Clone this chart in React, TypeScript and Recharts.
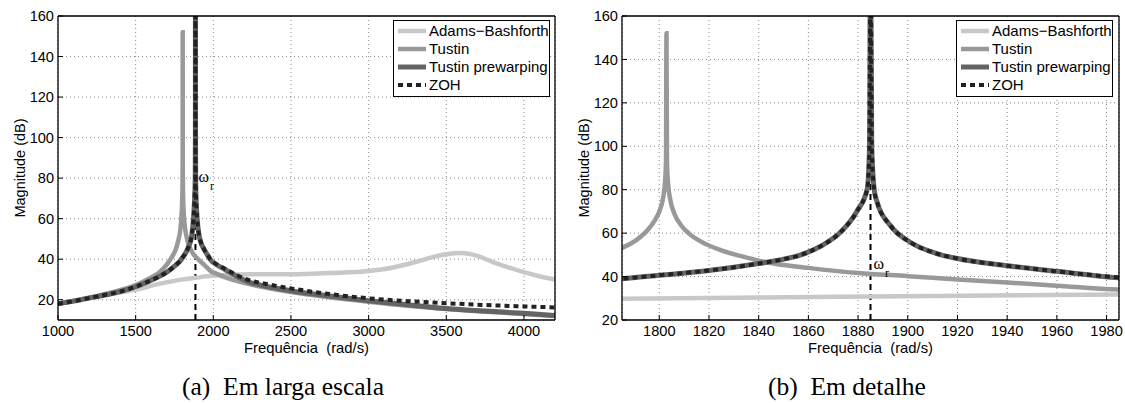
import { LineChart, Line, XAxis, YAxis, CartesianGrid, ReferenceLine, ReferenceDot, Legend } from "recharts";

const SANS = "'Liberation Sans', Arial, Helvetica, sans-serif";
const SERIF = "'Liberation Serif', 'Times New Roman', serif";

// resonance frequency (rad/s)
const W_R = 1885;

// Adams-Bashforth: frequency (rad/s) / magnitude (dB)
const AB_W = [1000, 1200, 1400, 1500, 1650, 1785, 1885, 1985, 2100, 2236, 2500, 2750, 3000, 3150, 3300, 3400, 3500, 3600, 3700, 3800, 3900, 4000, 4100, 4200];
const AB_DB = [18, 21, 23.5, 25, 27.8, 29.8, 30.8, 31.8, 32.3, 32.6, 32.6, 33.2, 34.2, 35.8, 38.6, 40.8, 42.4, 43, 41.6, 38.6, 36, 33.6, 31.6, 30];

// Tustin
const TUS_W = [1000, 1100, 1200, 1300, 1400, 1500, 1600, 1650, 1700, 1730, 1760, 1773, 1785, 1791, 1795, 1798, 1800, 1801.5, 1802.3, 1802.7, 1802.9, 1803.1, 1803.5, 1804.5, 1806, 1809, 1812, 1817, 1825, 1833, 1843, 1860, 1880, 1900, 1920, 1940, 1960, 1985, 2000, 2116, 2288, 2500, 2750, 3000, 3250, 3500, 3750, 4000, 4200];
const TUS_DB = [18, 19.4, 21, 22.8, 24.7, 27.2, 31, 33.3, 37.3, 40.6, 45.3, 48.8, 53.2, 57, 61, 65.5, 70, 76, 83.4, 93, 152, 93, 83.4, 75, 69.2, 63.3, 59.8, 56, 52.1, 49.4, 46.6, 44, 41.6, 40.2, 38.7, 37.3, 35.8, 34, 33.5, 30, 26.7, 23.8, 21.2, 19, 17, 15.4, 14.1, 13, 12];

// Tustin prewarping
const PRE_W = [1000, 1100, 1200, 1300, 1400, 1500, 1600, 1650, 1700, 1730, 1760, 1785, 1800, 1820, 1840, 1850, 1857, 1865, 1873, 1879.5, 1883.7, 1884.6, 1885, 1885.5, 1886.5, 1887.7, 1893, 1901, 1912, 1920, 1940, 1960, 1985, 2000, 2073, 2150, 2236, 2300, 2500, 2750, 3000, 3250, 3500, 3750, 4000, 4200];
const PRE_DB = [18, 19.3, 20.8, 22.3, 24, 26.4, 29.6, 31.4, 33.6, 35.3, 37.2, 39, 40.6, 42.8, 46, 48, 50, 54, 60.5, 70, 80.4, 100, 200, 100, 80, 74.2, 63.5, 55.8, 50.5, 48.3, 45, 42.4, 39.4, 38.4, 35, 31.6, 28.6, 27.3, 24.4, 21.8, 19.5, 17.5, 15.7, 14.4, 13.3, 12.2];

// ZOH
const ZOH_W = [1000, 1100, 1200, 1300, 1400, 1500, 1600, 1650, 1700, 1730, 1760, 1785, 1800, 1820, 1840, 1850, 1857, 1865, 1873, 1879.5, 1883.7, 1884.6, 1885, 1885.5, 1886.5, 1887.7, 1893, 1901, 1912, 1920, 1940, 1960, 1985, 2000, 2073, 2150, 2236, 2300, 2500, 2750, 3000, 3250, 3500, 3750, 4000, 4200];
const ZOH_DB = [18, 19.3, 20.8, 22.3, 24, 26.4, 29.6, 31.4, 33.6, 35.3, 37.2, 39, 40.6, 42.8, 46, 48, 50, 54, 60.5, 70, 80.4, 100, 200, 100, 80, 74.2, 63.5, 55.8, 50.5, 48.3, 45, 42.4, 39.6, 38.6, 35.4, 32.2, 29.5, 28.4, 25.6, 22.8, 20.7, 19.3, 18.3, 17.4, 16.7, 16.2];

// axes
const WIDE_X_TICKS = [1000, 1500, 2000, 2500, 3000, 3500, 4000];
const WIDE_Y_TICKS = [20, 40, 60, 80, 100, 120, 140, 160];
const ZOOM_X_TICKS = [1800, 1820, 1840, 1860, 1880, 1900, 1920, 1940, 1960, 1980];
const ZOOM_Y_TICKS = [20, 40, 60, 80, 100, 120, 140, 160];

const toPts = (w: number[], db: number[]) => w.map((x, i) => ({ x, y: db[i] }));

const SERIES = [
  { name: "Adams\u2212Bashforth", data: toPts(AB_W, AB_DB), color: "#c8c8c8", width: 4.5, dash: undefined },
  { name: "Tustin", data: toPts(TUS_W, TUS_DB), color: "#999999", width: 4.5, dash: undefined },
  { name: "Tustin prewarping", data: toPts(PRE_W, PRE_DB), color: "#646464", width: 5, dash: undefined },
  { name: "ZOH", data: toPts(ZOH_W, ZOH_DB), color: "#222222", width: 4, dash: "5 4" },
];

const LegendBox = () => (
  <div
    style={{
      border: "1.3px solid #000",
      background: "#fff",
      width: 155,
      padding: "1px 0 2px",
      fontFamily: SANS,
      fontSize: 15,
      color: "#000",
    }}
  >
    {SERIES.map((s) => (
      <div key={s.name} style={{ display: "flex", alignItems: "center", height: 18 }}>
        <svg width={35} height={18} style={{ flex: "none" }}>
          <line x1={4} x2={32} y1={9} y2={9} stroke={s.color} strokeWidth={s.width} strokeDasharray={s.dash} />
        </svg>
        <span style={{ lineHeight: "18px", whiteSpace: "nowrap" }}>{s.name}</span>
      </div>
    ))}
  </div>
);

const OmegaText = ({ viewBox }: any) => {
  if (!viewBox) return null;
  const x = viewBox.x + viewBox.width / 2;
  const y = viewBox.y + viewBox.height / 2;
  return (
    <text x={x + 3} y={y} fontFamily={SERIF} fontSize={16} fill="#000">
      ω
      <tspan dx={1} dy={8} fontSize={12}>
        r
      </tspan>
    </text>
  );
};

const tickStyle = { fill: "#000", fontSize: 14.6, fontFamily: SANS };
const frame = { stroke: "#000", strokeWidth: 1.3 };

type ChartProps = {
  width: number;
  yAxisWidth: number;
  rightMargin: number;
  xDomain: [number, number];
  xTicks: number[];
  yDomain: [number, number];
  yTicks: number[];
  omegaDb: number;
  legendLeft: number;
};

const MagChart = ({ width, yAxisWidth, rightMargin, xDomain, xTicks, yDomain, yTicks, omegaDb, legendLeft }: ChartProps) => (
  <LineChart width={width} height={403} margin={{ top: 15, right: rightMargin, bottom: 0, left: 0 }}>
    <CartesianGrid stroke="#888" strokeDasharray="1 3" />
    <XAxis
      dataKey="x"
      type="number"
      domain={xDomain}
      ticks={xTicks}
      allowDataOverflow
      height={83}
      tick={tickStyle}
      tickSize={-5}
      tickMargin={11}
      axisLine={frame}
      tickLine={{ stroke: "#000" }}
      label={(p: any) => (
        <text
          x={p.viewBox.x + p.viewBox.width / 2}
          y={p.viewBox.y + 33}
          textAnchor="middle"
          fontFamily={SANS}
          fontSize={14.8}
          fill="#000"
        >
          {"Frequência\u00a0 (rad/s)"}
        </text>
      )}
    />
    <XAxis
      xAxisId="top"
      orientation="top"
      type="number"
      domain={xDomain}
      ticks={xTicks}
      allowDataOverflow
      height={1}
      tick={false}
      tickSize={-5}
      axisLine={frame}
      tickLine={{ stroke: "#000" }}
    />
    <YAxis
      type="number"
      domain={yDomain}
      ticks={yTicks}
      allowDataOverflow
      width={yAxisWidth}
      tick={tickStyle}
      tickSize={-5}
      tickMargin={9}
      axisLine={frame}
      tickLine={{ stroke: "#000" }}
      label={(p: any) => {
        const cx = p.viewBox.x + yAxisWidth - 38;
        const cy = p.viewBox.y + p.viewBox.height / 2;
        return (
          <text
            x={cx}
            y={cy}
            transform={`rotate(-90 ${cx} ${cy})`}
            textAnchor="middle"
            dominantBaseline="central"
            fontFamily={SANS}
            fontSize={14.5}
            fill="#000"
          >
            Magnitude (dB)
          </text>
        );
      }}
    />
    <YAxis
      yAxisId="right"
      orientation="right"
      type="number"
      domain={yDomain}
      ticks={yTicks}
      allowDataOverflow
      width={1}
      tick={false}
      tickSize={-5}
      axisLine={frame}
      tickLine={{ stroke: "#000" }}
    />
    <ReferenceLine x={W_R} stroke="#000" strokeWidth={2} strokeDasharray="6 4" />
    {SERIES.map((s) => (
      <Line
        key={s.name}
        data={s.data}
        dataKey="y"
        name={s.name}
        type="monotone"
        stroke={s.color}
        strokeWidth={s.width}
        strokeDasharray={s.dash}
        dot={false}
        activeDot={false}
        isAnimationActive={false}
      />
    ))}
    <ReferenceDot x={W_R} y={omegaDb} r={1} fill="none" stroke="none" label={(p: any) => <OmegaText viewBox={p.viewBox} />} />
    <Legend
      layout="vertical"
      align="center"
      verticalAlign="middle"
      content={() => <LegendBox />}
      wrapperStyle={{ left: legendLeft, top: 20, width: "auto" }}
    />
  </LineChart>
);

const captionStyle = {
  position: "absolute" as const,
  top: 372,
  fontFamily: SERIF,
  fontSize: 25.5,
  color: "#000",
  whiteSpace: "pre" as const,
};

export default function App() {
  return (
    <div style={{ position: "fixed", left: 0, top: 0, width: 1125, height: 403, background: "#fff" }}>
      <div style={{ position: "absolute", left: 0, top: 0 }}>
        <MagChart
          width={560}
          yAxisWidth={58}
          rightMargin={4}
          xDomain={[1000, 4200]}
          xTicks={WIDE_X_TICKS}
          yDomain={[10, 160]}
          yTicks={WIDE_Y_TICKS}
          omegaDb={78}
          legendLeft={393}
        />
      </div>
      <div style={{ position: "absolute", left: 560, top: 0 }}>
        <MagChart
          width={565}
          yAxisWidth={62}
          rightMargin={5}
          xDomain={[1785, 1985]}
          xTicks={ZOOM_X_TICKS}
          yDomain={[20, 160]}
          yTicks={ZOOM_Y_TICKS}
          omegaDb={43.7}
          legendLeft={396}
        />
      </div>
      <div style={{ ...captionStyle, left: 182 }}>{"(a)  Em larga escala"}</div>
      <div style={{ ...captionStyle, left: 768 }}>{"(b)  Em detalhe"}</div>
    </div>
  );
}
